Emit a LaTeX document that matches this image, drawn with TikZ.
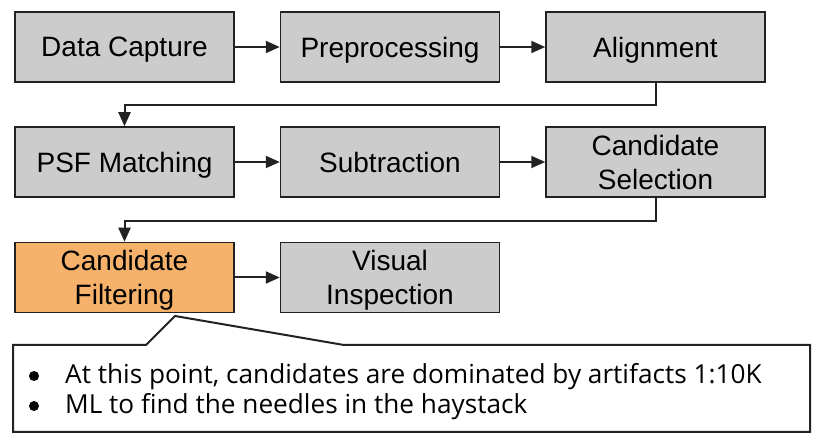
\documentclass[tikz,border=0pt]{standalone}
\usepackage{fontspec}
\setmainfont{Liberation Sans}
\newfontfamily\callfont{Open Sans}
\usetikzlibrary{arrows.meta}
\definecolor{boxgray}{HTML}{CCCCCC}
\definecolor{boxorange}{HTML}{F6B26B}
\definecolor{edge}{HTML}{222222}
\begin{document}
\begin{tikzpicture}[x=1pt,y=-1pt,
  stage/.style={draw=edge,line width=1.5pt,fill=boxgray,minimum width=219pt,minimum height=70pt,
    inner sep=0pt,align=center,text depth=0pt,font=\fontsize{28}{34}\selectfont,text=black},
  hot/.style={stage,fill=boxorange},
  flow/.style={draw=edge,line width=2pt,-{Triangle[length=14pt,width=12pt]}},
  calltext/.style={anchor=base west,inner sep=0pt,font=\callfont\fontsize{26.2}{30}\selectfont},
  dot/.style={circle,fill=black,inner sep=0pt,minimum size=10pt}]
\useasboundingbox (0,0) rectangle (820,446);
\fill[white] (0,0) rectangle (820,446);
\node[stage] (cap) at (124.5,47) {Data Capture};
\node[stage] (pre) at (390,47) {Preprocessing};
\node[stage] (ali) at (655.5,47) {Alignment};
\node[stage] (psf) at (124.5,162) {PSF Matching};
\node[stage] (sub) at (390,162) {Subtraction};
\node[stage] (sel) at (655.5,162) {Candidate\\Selection};
\node[hot] (fil) at (124.5,277.5) {Candidate\\Filtering};
\node[stage] (vis) at (390,277.5) {Visual\\Inspection};
\draw[flow] (cap) -- (pre);
\draw[flow] (pre) -- (ali);
\draw[flow] (ali.south) -- ++(0,22) -| (psf.north);
\draw[flow] (psf) -- (sub);
\draw[flow] (sub) -- (sel);
\draw[flow] (sel.south) -- ++(0,23) -| (fil.north);
\draw[flow] (fil) -- (vis);
\coordinate (tip) at (175,316);
\draw[draw=edge,line width=2pt,fill=white,line join=miter]
  (13,345) -- (146,345) -- (tip) -- (344,345) -- (810,345) -- (810,432) -- (13,432) -- cycle;
\node[dot] (b1) at (34,376) {};
\node[dot] (b2) at (34,406) {};
\node[calltext] (t1) at (65,384) {At this point, candidates are dominated by artifacts 1:10K};
\node[calltext] (t2) at (65,414) {ML to find the needles in the haystack};
\end{tikzpicture}
\end{document}
